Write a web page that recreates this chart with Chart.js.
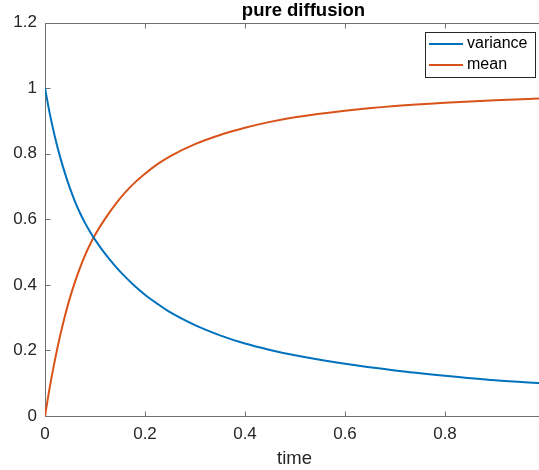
<!DOCTYPE html>
<html>
<head>
<meta charset="utf-8">
<script src="https://cdn.jsdelivr.net/npm/chart.js@4.4.1/dist/chart.umd.min.js"></script>
<style>
    html, body { margin: 0; padding: 0; background: #fff; overflow: hidden; }
    #wrap { width: 539px; height: 470px; overflow: hidden; }
</style>
</head>
<body>
<div id="wrap"><canvas id="diffChart" width="549" height="470"></canvas></div>
<script>
// datos
var tiempos  = [0, 0.01, 0.02, 0.03, 0.04, 0.05, 0.06, 0.07, 0.08, 0.09, 0.1, 0.12, 0.14, 0.16, 0.18, 0.2, 0.225, 0.25, 0.3, 0.35, 0.4, 0.45, 0.5, 0.6, 0.7, 0.8, 0.9, 1.0];
var varianza = [1.0, 0.919, 0.85, 0.791, 0.74, 0.694, 0.654, 0.619, 0.589, 0.562, 0.538, 0.495, 0.458, 0.425, 0.396, 0.37, 0.342, 0.3165, 0.277, 0.246, 0.221, 0.2015, 0.185, 0.159, 0.139, 0.123, 0.109, 0.099];
var media    = [0, 0.092, 0.172, 0.243, 0.306, 0.361, 0.409, 0.452, 0.49, 0.523, 0.552, 0.601, 0.644, 0.681, 0.7125, 0.739, 0.768, 0.792, 0.829, 0.857, 0.879, 0.897, 0.911, 0.931, 0.9455, 0.9555, 0.963, 0.969];
var ticksX = [0, 0.2, 0.4, 0.6, 0.8];
var ticksY = [0, 0.2, 0.4, 0.6, 0.8, 1, 1.2];
var nombres = ['variance', 'mean'];
var colores = ['#0072BD', '#D95319'];

var fuente = '"Liberation Sans", Arial, Helvetica, sans-serif';
var gris = '#262626';
var colorEje = '#707070';

function puntos(ys) {
    return tiempos.map(function (t, i) { return { x: t, y: ys[i] }; });
}

// marco de ejes con marcas hacia dentro (estilo matlab)
var marcoPlugin = {
    id: 'marco',
    afterLayout: function (chart) {
        // el titulo en la figura original queda un poco a la derecha
        if (chart.titleBlock) {
            chart.titleBlock.left += 9;
            chart.titleBlock.right += 9;
        }
    },
    beforeDatasetsDraw: function (chart) {
        var ctx = chart.ctx, a = chart.chartArea;
        var sx = chart.scales.x, sy = chart.scales.y;
        ctx.save();
        ctx.strokeStyle = colorEje;
        ctx.lineWidth = 1;
        ctx.beginPath();
        var l = Math.round(a.left) + 0.5, r = Math.round(a.right) + 0.5;
        var t = Math.round(a.top) + 0.5, b = Math.round(a.bottom) + 0.5;
        ctx.moveTo(l, t); ctx.lineTo(r, t); ctx.lineTo(r, b); ctx.lineTo(l, b); ctx.closePath();
        ticksX.forEach(function (v) {
            var px = Math.round(sx.getPixelForValue(v)) + 0.5;
            ctx.moveTo(px, b); ctx.lineTo(px, b - 5);
            ctx.moveTo(px, t); ctx.lineTo(px, t + 5);
        });
        ticksY.forEach(function (v) {
            var py = Math.round(sy.getPixelForValue(v)) + 0.5;
            ctx.moveTo(l, py); ctx.lineTo(l + 5, py);
            ctx.moveTo(r, py); ctx.lineTo(r - 5, py);
        });
        ctx.stroke();
        ctx.restore();
    },
    // leyenda dentro del area, arriba a la derecha
    afterDatasetsDraw: function (chart) {
        var ctx = chart.ctx;
        var x0 = 425, y0 = 32, w = 110, h = 45;
        ctx.save();
        ctx.fillStyle = '#fff';
        ctx.fillRect(x0, y0, w, h);
        ctx.strokeStyle = gris;
        ctx.lineWidth = 1;
        ctx.strokeRect(x0 + 0.5, y0 + 0.5, w, h);
        ctx.font = '16px ' + fuente;
        ctx.textBaseline = 'middle';
        ctx.textAlign = 'left';
        chart.data.datasets.forEach(function (ds, i) {
            var yy = y0 + 12 + i * 21;
            ctx.strokeStyle = ds.borderColor;
            ctx.lineWidth = 2;
            ctx.beginPath();
            ctx.moveTo(x0 + 4, yy);
            ctx.lineTo(x0 + 38, yy);
            ctx.stroke();
            ctx.fillStyle = '#000';
            ctx.fillText(ds.label, x0 + 42, yy);
        });
        ctx.restore();
    }
};

var ctx = document.getElementById('diffChart').getContext('2d');
var chart = new Chart(ctx, {
    type: 'line',
    data: {
        datasets: [{
            label: nombres[0],
            data: puntos(varianza),
            borderColor: colores[0],
            borderWidth: 2,
            pointRadius: 0,
            cubicInterpolationMode: 'monotone',
            fill: false
        }, {
            label: nombres[1],
            data: puntos(media),
            borderColor: colores[1],
            borderWidth: 2,
            pointRadius: 0,
            cubicInterpolationMode: 'monotone',
            fill: false
        }]
    },
    options: {
        responsive: false,
        animation: false,
        devicePixelRatio: 1,
        layout: { padding: { left: 0, right: 5, top: 0, bottom: 0 } },
        scales: {
            x: {
                type: 'linear',
                min: 0,
                max: 0.998,
                afterBuildTicks: function (s) { s.ticks = ticksX.map(function (v) { return { value: v }; }); },
                afterFit: function (s) { s.height = 54; },
                grid: { display: false, drawTicks: false },
                border: { display: false },
                ticks: {
                    padding: 8,
                    color: gris,
                    font: { family: fuente, size: 17 },
                    maxRotation: 0,
                    callback: function (v) { return String(v); }
                },
                title: {
                    display: true,
                    text: 'time',
                    color: gris,
                    font: { family: fuente, size: 18.5 },
                    padding: { top: 0, bottom: 0 }
                }
            },
            y: {
                min: 0,
                max: 1.2,
                afterBuildTicks: function (s) { s.ticks = ticksY.map(function (v) { return { value: v }; }); },
                afterFit: function (s) { s.width = 45; },
                grid: { display: false, drawTicks: false },
                border: { display: false },
                ticks: {
                    padding: 8,
                    color: gris,
                    font: { family: fuente, size: 17 },
                    callback: function (v) { return String(v); }
                }
            }
        },
        plugins: {
            legend: { display: false },
            tooltip: { enabled: false },
            title: {
                display: true,
                text: 'pure diffusion',
                fullSize: false,
                color: '#000',
                font: { family: fuente, size: 18.5, weight: 'bold', lineHeight: 1 },
                padding: { top: 2, bottom: 2 }
            }
        }
    },
    plugins: [marcoPlugin]
});
</script>
</body>
</html>
